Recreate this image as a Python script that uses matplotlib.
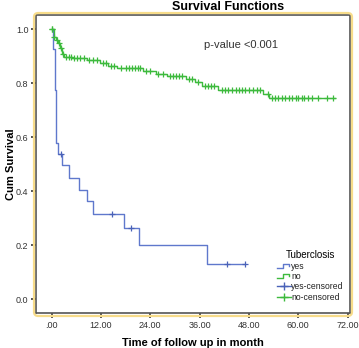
import numpy as np
import matplotlib
matplotlib.use("Agg")
import matplotlib.pyplot as plt
from matplotlib.lines import Line2D
from matplotlib.legend_handler import HandlerBase
from matplotlib.patches import FancyBboxPatch

plt.rcParams['font.family'] = ['Liberation Sans', 'DejaVu Sans']

# ---- data ----
yes_step_t = [0, 0.3, 0.8, 1.0, 1.5, 2.6, 4.2, 6.7, 8.5, 10.1, 17.6, 21.3, 37.7]
yes_step_s = [1.0, 0.926, 0.775, 0.58, 0.54, 0.497, 0.45, 0.405, 0.364, 0.315, 0.263, 0.201, 0.133]
yes_end = 47.0
yes_censor_t = [2.3, 14.6, 19.2, 42.6, 47.0]

no_step_t = [0, 0.5, 1.0, 1.5, 2.0, 2.5, 3.0, 5.0, 8.5, 11.8, 13.7, 16.0, 22.2, 25.5,
             28.0, 32.8, 35.0, 36.5, 40.5, 51.5, 53.0]
no_step_s = [1.0, 0.97, 0.96, 0.95, 0.93, 0.91, 0.898, 0.892, 0.885, 0.874, 0.865, 0.856,
             0.847, 0.834, 0.827, 0.815, 0.806, 0.79, 0.775, 0.759, 0.744]
no_end = 69.0
no_censor_t = [0, 0.2, 0.7, 1.2, 1.8, 2.2, 2.8, 3.5, 4.2, 4.8, 5.5, 6.2, 7.0, 7.8, 9.0,
               10.0, 11.0, 12.5, 13.2, 14.5, 15.2, 17.0, 18.0, 18.8, 19.5, 20.3, 21.0,
               21.6, 23.0, 24.0, 26.0, 27.0, 28.8, 29.5, 30.2, 31.0, 31.8, 33.5, 34.2,
               35.5, 37.2, 38.0, 38.8, 39.5, 41.5, 42.2, 43.0, 44.0, 44.8, 45.5, 46.3,
               47.0, 48.0, 49.0, 50.0, 50.7, 52.7, 53.5, 54.3, 55.1, 56.1, 56.8, 57.7,
               58.5, 59.4, 60.0, 60.8, 61.5, 62.3, 63.3, 64.7, 66.9, 68.5]

x_ticks = [0, 12, 24, 36, 48, 60, 72]
x_ticklabels = ['.00', '12.00', '24.00', '36.00', '48.00', '60.00', '72.00']
y_ticks = [0.0, 0.2, 0.4, 0.6, 0.8, 1.0]
y_ticklabels = ['0.0', '0.2', '0.4', '0.6', '0.8', '1.0']

blue = '#5f78cc'
green = '#3dba3d'


def surv_at(t_list, s_list, t):
    idx = np.searchsorted(np.array(t_list), t, side='right') - 1
    return np.array(s_list)[idx]


fig = plt.figure(figsize=(3.59, 3.48), dpi=100)
ax = fig.add_axes([36 / 359, 1 - 313 / 348, 314 / 359, 298 / 348])

# yellow rounded border around plot area
border = FancyBboxPatch((34 / 359, 1 - 316 / 348), 318 / 359, 303 / 348,
                        boxstyle='round,pad=0,rounding_size=0.012',
                        transform=fig.transFigure, facecolor='none',
                        edgecolor='#f7dc8a', lw=1.6, zorder=0)
fig.patches.append(border)

# curves
yt = list(yes_step_t) + [yes_end]
ys = list(yes_step_s) + [yes_step_s[-1]]
ax.step(yt, ys, where='post', color=blue, lw=1.0)
nt = list(no_step_t) + [no_end]
ns = list(no_step_s) + [no_step_s[-1]]
ax.step(nt, ns, where='post', color=green, lw=1.0)

ax.plot(yes_censor_t, surv_at(yes_step_t, yes_step_s, yes_censor_t), '+',
        color='#4a62b8', ms=5, mew=0.9, ls='none')
ax.plot(no_censor_t, surv_at(no_step_t, no_step_s, no_censor_t), '+',
        color=green, ms=5, mew=0.9, ls='none')

ax.set_xlim(-3.8, 72.6)
ax.set_ylim(-0.05, 1.053)
ax.set_xticks(x_ticks)
ax.set_xticklabels(x_ticklabels)
ax.set_yticks(y_ticks)
ax.set_yticklabels(y_ticklabels)
ax.tick_params(direction='out', length=3.5, width=1.2, colors='#333333',
               labelsize=6.5, pad=2)
for sp in ax.spines.values():
    sp.set_color('#555555')
    sp.set_linewidth(1.2)

ax.set_xlabel('Time of follow up in month', fontsize=8, fontweight='bold', labelpad=6)
ax.set_ylabel('Cum Survival', fontsize=8, fontweight='bold')
ax.yaxis.set_label_coords((16.5 - 36) / 314, 0.5)
fig.text(228 / 359, 1 - 7 / 348, 'Survival Functions', fontsize=9, fontweight='bold',
         ha='center', va='center')
ax.text(0.535, 0.9, 'p-value <0.001', transform=ax.transAxes, fontsize=8,
        color='#333333', ha='left', va='center')


class StepHandler(HandlerBase):
    def create_artists(self, legend, orig_handle, xdescent, ydescent, width, height,
                       fontsize, trans):
        x0 = -xdescent
        y0 = -ydescent + height * 0.1
        y1 = -ydescent + height * 0.85
        xs = [x0, x0 + width * 0.45, x0 + width * 0.45, x0 + width * 0.9, x0 + width * 0.9]
        yv = [y0, y0, y1, y1, y1 - height * 0.35]
        ln = Line2D(xs, yv, color=orig_handle.get_color(), lw=1.0)
        ln.set_transform(trans)
        return [ln]


h_yes = Line2D([], [], color=blue)
h_no = Line2D([], [], color=green)
h_yc = Line2D([], [], color='#4a62b8', marker='+', ms=6, lw=1.0)
h_nc = Line2D([], [], color=green, marker='+', ms=6, lw=1.0)
leg = ax.legend([h_yes, h_no, h_yc, h_nc], ['yes', 'no', 'yes-censored', 'no-censored'],
                handler_map={h_yes: StepHandler(), h_no: StepHandler()},
                title='Tuberclosis', title_fontsize=7, fontsize=6.2, frameon=False,
                loc='lower right', bbox_to_anchor=(1.0, 0.018), handlelength=1.6,
                handletextpad=0.1, labelspacing=0.15, borderpad=0.2,
                alignment='center')
for t in leg.get_texts():
    t.set_color('#222222')

fig.savefig('out.png', dpi=100)
